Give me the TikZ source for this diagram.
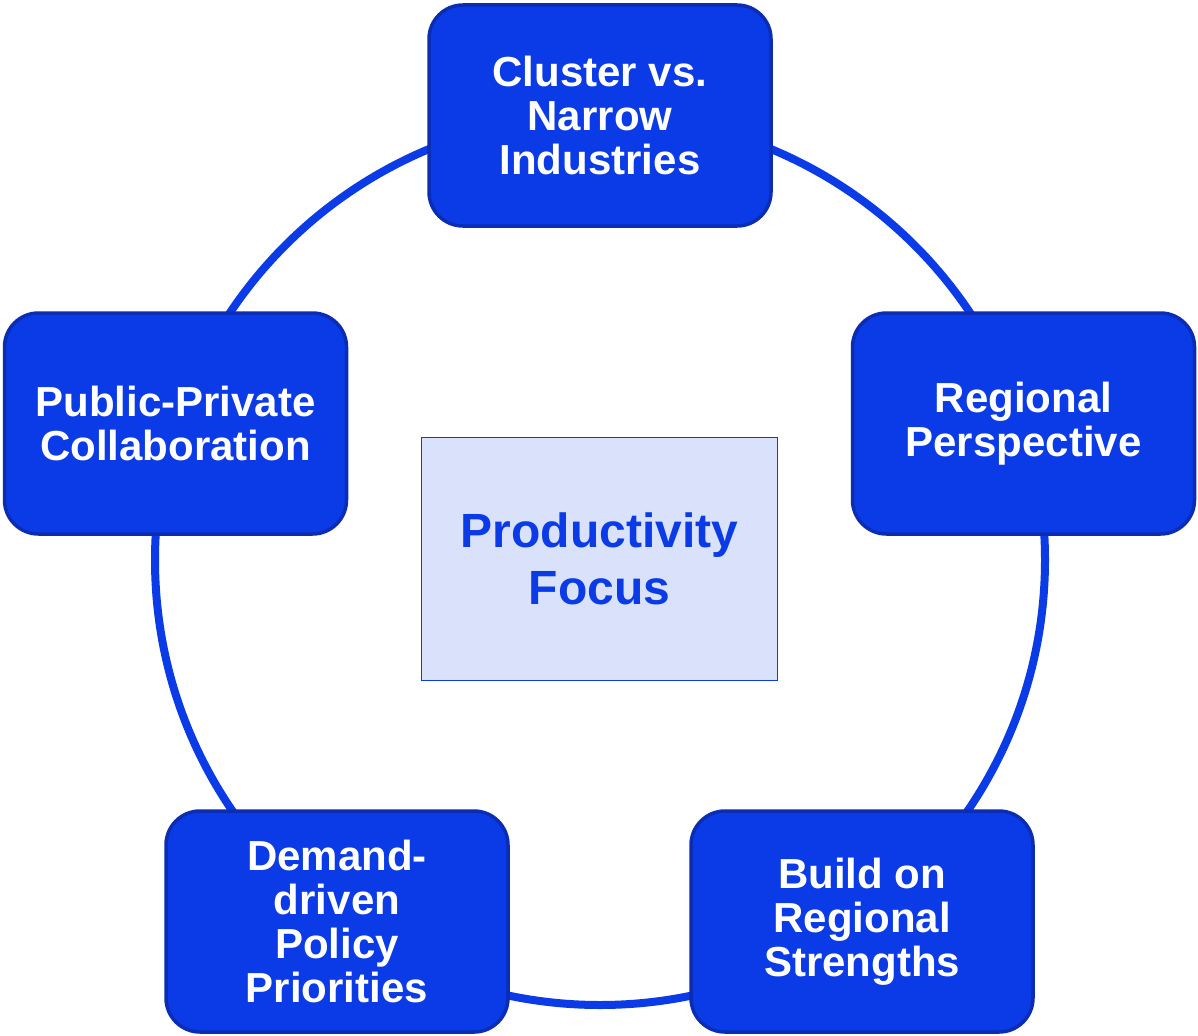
\documentclass[tikz,border=0pt]{standalone}
\usepackage{fontspec}
\setmainfont{Liberation Sans}
\definecolor{royal}{HTML}{0A3BE6}
\definecolor{royaledge}{HTML}{0A2DB4}
\definecolor{paleblue}{HTML}{D9E2FA}
\begin{document}
\begin{tikzpicture}[x=1pt,y=-1pt,
  pillar/.style={draw=royaledge, line width=3.5pt, fill=royal, rounded corners=34pt,
    minimum width=342pt, minimum height=221pt, inner sep=0pt, align=center,
    text=white, font=\fontsize{42}{44}\selectfont\bfseries},
  hub/.style={draw=royal, line width=1.5pt, fill=paleblue, minimum width=356pt,
    minimum height=243pt, inner sep=0pt, align=center, text=royal,
    font=\fontsize{48}{57}\selectfont\bfseries},
  ring/.style={draw=royal, line width=8pt}]
  \useasboundingbox (0,0) rectangle (1198,1035);
  % ring linking the five pillars
  \coordinate (ctr) at (600,560);
  \draw[ring] (ctr) circle[radius=445];
  % centre box
  \node[hub] (focus) at (599.5,559) {Productivity\\Focus};
  % pillars around the ring
  \node[pillar] (cluster) at (600,115.5) {Cluster vs.\\Narrow\\Industries};
  \node[pillar] (regional) at (1023.5,423.5) {Regional\\Perspective};
  \node[pillar] (strengths) at (862,921.5) {Build on\\Regional\\Strengths};
  \node[pillar] (demand) at (337,921.5) {Demand-\\driven\\Policy\\Priorities};
  \node[pillar] (public) at (175.5,423.5) {Public-Private\\Collaboration};
\end{tikzpicture}
\end{document}
